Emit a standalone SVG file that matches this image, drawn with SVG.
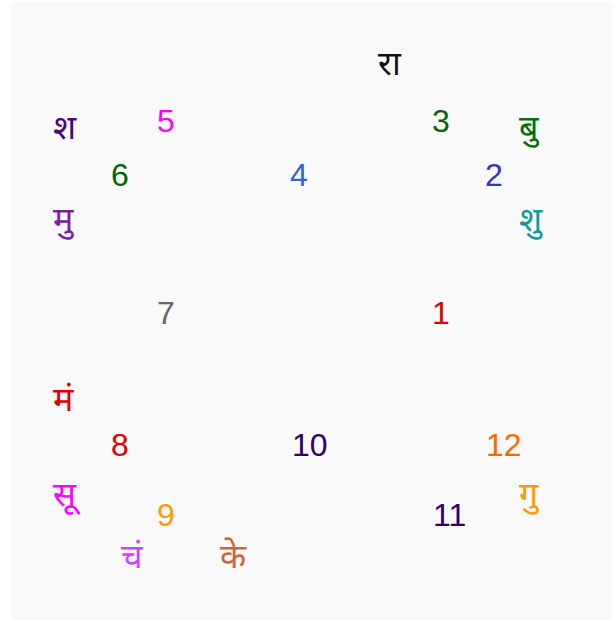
<svg xmlns="http://www.w3.org/2000/svg" width="616" height="622" viewBox="0 0 616 622">
<style>
.n{font-family:"Liberation Sans",Arial,sans-serif;font-size:32px}
.p{font-family:"Noto Sans","Noto Sans Devanagari","Liberation Sans",sans-serif;font-size:34px}
</style>
<rect x="0" y="0" width="616" height="622" fill="#ffffff"/>
<rect x="11" y="2" width="601" height="618" fill="#f9f9f9"/>
<g id="connectors"/>
<g id="house1"><text class="n" x="432" y="324" fill="#dd0000">1</text></g>
<g id="house2"><text class="n" x="485" y="186" fill="#3333cc">2</text></g>
<g id="house3"><text class="n" x="432" y="132" fill="#006400">3</text></g>
<g id="house4"><text class="n" x="290" y="186" fill="#3366cc">4</text></g>
<g id="house5"><text class="n" x="157" y="132" fill="#ff00ff">5</text></g>
<g id="house6"><text class="n" x="111" y="186" fill="#006400">6</text></g>
<g id="house7"><text class="n" x="157" y="324" fill="#666666">7</text></g>
<g id="house8"><text class="n" x="111" y="456" fill="#dd0000">8</text></g>
<g id="house9"><text class="n" x="157" y="526" fill="#ff9900">9</text></g>
<g id="house10"><text class="n" x="292" y="456" fill="#330066">10</text></g>
<g id="house11"><text class="n" x="433" y="526" fill="#330066">11</text></g>
<g id="house12"><text class="n" x="486" y="456" fill="#ff6600">12</text></g>
<g id="rahu"><text class="p" x="378" y="75" fill="#111111">रा</text></g>
<g id="shani"><text class="p" x="53" y="139" fill="#4b0082">श</text></g>
<g id="budh"><text class="p" x="519" y="139" fill="#007000">बु</text></g>
<g id="mercury-u"><text class="p" x="53" y="231" fill="#7b1fa2">मु</text></g>
<g id="shukra"><text class="p" x="519" y="231" fill="#119999">शु</text></g>
<g id="mangal"><text class="p" x="53" y="411" fill="#dd0000">मं</text></g>
<g id="surya"><text class="p" x="53" y="506" fill="#ff00ff">सू</text></g>
<g id="guru"><text class="p" x="519" y="506" fill="#ff9900">गु</text></g>
<g id="chandra"><text class="p" x="121" y="568" fill="#cc44ff">चं</text></g>
<g id="ketu"><text class="p" x="220" y="568" fill="#cc6633">के</text></g>
</svg>
